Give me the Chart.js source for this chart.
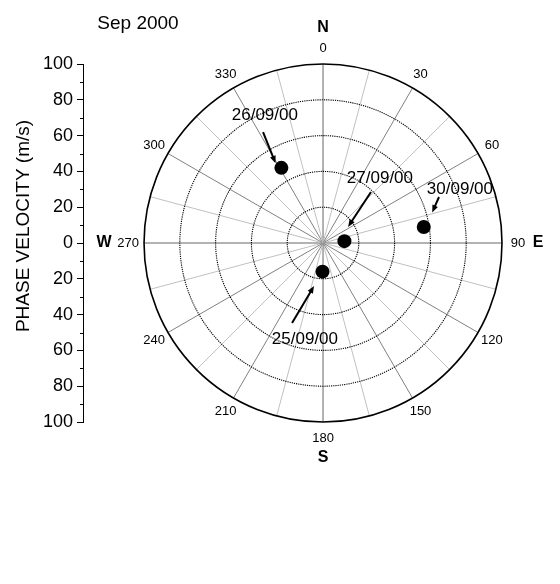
<!DOCTYPE html>
<html>
<head>
<meta charset="utf-8">
<script src="https://cdn.jsdelivr.net/npm/chart.js@4/dist/chart.umd.min.js"></script>
<style>
  body { margin: 0; background: #fff; }
  #wrap { width: 560px; height: 584px; }
</style>
</head>
<body>
<div id="wrap"><canvas id="polar" width="560" height="584"></canvas></div>
<script>
// wave direction (deg clockwise from N) and phase velocity (m/s)
const dates = ['26/09/00', '27/09/00', '30/09/00', '25/09/00'];
const directions = [331, 85, 81, 181];
const speeds = [48, 12, 57, 16];

const rings = [20, 40, 60, 80, 100];
const angleLabels = ['0', '30', '60', '90', '120', '150', '180', '210', '240', '270', '300', '330'];
const compass = ['N', 'E', 'S', 'W'];

// label centre and arrow (from -> to), in m/s units on the plot
const notes = [
    { text: '26/09/00', at: [-32.5, 71.5], from: [-33.5, 62], to: [-26.5, 44.5] },
    { text: '27/09/00', at: [31.8, 36.3], from: [26.8, 28.5], to: [14, 9] },
    { text: '30/09/00', at: [76.5, 30.2], from: [64.8, 25.7], to: [61, 17] },
    { text: '25/09/00', at: [-10.1, -53.6], from: [-17.3, -44.7], to: [-5, -24] }
];

const FONT = '"Liberation Sans", Arial, sans-serif';
const rad = d => d * Math.PI / 180;

const points = directions.map((d, i) => ({
    x: speeds[i] * Math.sin(rad(d)),
    y: speeds[i] * Math.cos(rad(d))
}));

function arrow(ctx, x1, y1, x2, y2) {
    const a = Math.atan2(y2 - y1, x2 - x1);
    const head = 8;
    ctx.beginPath();
    ctx.moveTo(x1, y1);
    ctx.lineTo(x2 - Math.cos(a) * head * 0.8, y2 - Math.sin(a) * head * 0.8);
    ctx.lineWidth = 2;
    ctx.stroke();
    ctx.beginPath();
    ctx.moveTo(x2, y2);
    ctx.lineTo(x2 - head * Math.cos(a - 0.38), y2 - head * Math.sin(a - 0.38));
    ctx.lineTo(x2 - head * Math.cos(a + 0.38), y2 - head * Math.sin(a + 0.38));
    ctx.closePath();
    ctx.fill();
}

const polarGrid = {
    id: 'polarGrid',
    beforeDatasetsDraw(chart) {
        const { ctx, scales: { x, y } } = chart;
        const cx = x.getPixelForValue(0);
        const cy = y.getPixelForValue(0);
        const R = x.getPixelForValue(100) - cx;
        ctx.save();

        // spokes every 15 degrees
        for (let a = 0; a < 360; a += 15) {
            ctx.beginPath();
            ctx.moveTo(cx, cy);
            ctx.lineTo(cx + R * Math.sin(rad(a)), cy - R * Math.cos(rad(a)));
            ctx.strokeStyle = a % 90 === 0 ? '#666' : (a % 30 === 0 ? '#808080' : '#c0c0c0');
            ctx.lineWidth = 1;
            ctx.stroke();
        }

        // speed rings
        rings.forEach(r => {
            const rp = x.getPixelForValue(r) - cx;
            ctx.beginPath();
            ctx.arc(cx, cy, rp, 0, Math.PI * 2);
            ctx.strokeStyle = '#000';
            if (r < 100) {
                ctx.setLineDash([1.2, 1]);
                ctx.lineWidth = 1.1;
            } else {
                ctx.setLineDash([]);
                ctx.lineWidth = 1.6;
            }
            ctx.stroke();
        });
        ctx.setLineDash([]);

        // angle labels
        ctx.fillStyle = '#000';
        ctx.textAlign = 'center';
        ctx.textBaseline = 'middle';
        ctx.font = '13px ' + FONT;
        angleLabels.forEach((t, i) => {
            const a = rad(i * 30);
            ctx.fillText(t, cx + (R + 16) * Math.sin(a), cy - (R + 16) * Math.cos(a));
        });
        ctx.font = 'bold 16px ' + FONT;
        compass.forEach((t, i) => {
            const a = rad(i * 90);
            const off = i === 3 ? 40 : 36;
            ctx.fillText(t, cx + (R + off) * Math.sin(a), cy - (R + off) * Math.cos(a));
        });

        // minor ticks on the velocity axis
        ctx.strokeStyle = '#000';
        ctx.lineWidth = 1;
        for (let v = -90; v <= 90; v += 20) {
            const py = Math.round(y.getPixelForValue(v)) + 0.5;
            ctx.beginPath();
            ctx.moveTo(y.right - 3, py);
            ctx.lineTo(y.right, py);
            ctx.stroke();
        }

        // axis title and header
        ctx.font = '19px ' + FONT;
        ctx.save();
        ctx.translate(24, 226);
        ctx.rotate(-Math.PI / 2);
        ctx.fillText('PHASE VELOCITY (m/s)', 0, 0);
        ctx.restore();
        ctx.font = '19px ' + FONT;
        ctx.fillText('Sep 2000', 138, 24);
        ctx.restore();
    },
    afterDatasetsDraw(chart) {
        const { ctx, scales: { x, y } } = chart;
        ctx.save();
        ctx.fillStyle = '#000';
        ctx.strokeStyle = '#000';
        ctx.font = '17px ' + FONT;
        ctx.textAlign = 'center';
        ctx.textBaseline = 'middle';
        notes.forEach(n => {
            ctx.fillText(n.text, x.getPixelForValue(n.at[0]), y.getPixelForValue(n.at[1]));
            arrow(ctx,
                x.getPixelForValue(n.from[0]), y.getPixelForValue(n.from[1]),
                x.getPixelForValue(n.to[0]), y.getPixelForValue(n.to[1]));
        });
        ctx.restore();
    }
};

new Chart(document.getElementById('polar').getContext('2d'), {
    type: 'scatter',
    data: {
        datasets: [{
            label: 'Sep 2000',
            data: points,
            backgroundColor: '#000',
            borderWidth: 0,
            pointRadius: 7,
            pointHoverRadius: 7
        }]
    },
    options: {
        responsive: false,
        animation: false,
        events: [],
        layout: { padding: { top: 64, right: 58, bottom: 162, left: 0 } },
        plugins: {
            legend: { display: false },
            tooltip: { enabled: false }
        },
        scales: {
            x: { type: 'linear', min: -134.1, max: 100, display: false },
            y: {
                type: 'linear',
                min: -100,
                max: 100,
                afterFit(scale) { scale.width = 83; },
                ticks: {
                    stepSize: 20,
                    padding: 4,
                    color: '#000',
                    font: { family: FONT, size: 18 },
                    callback: v => Math.abs(v)
                },
                grid: { drawOnChartArea: false, drawTicks: true, tickLength: 6, color: '#000' },
                border: { color: '#000', width: 1 }
            }
        }
    },
    plugins: [polarGrid]
});
</script>
</body>
</html>
